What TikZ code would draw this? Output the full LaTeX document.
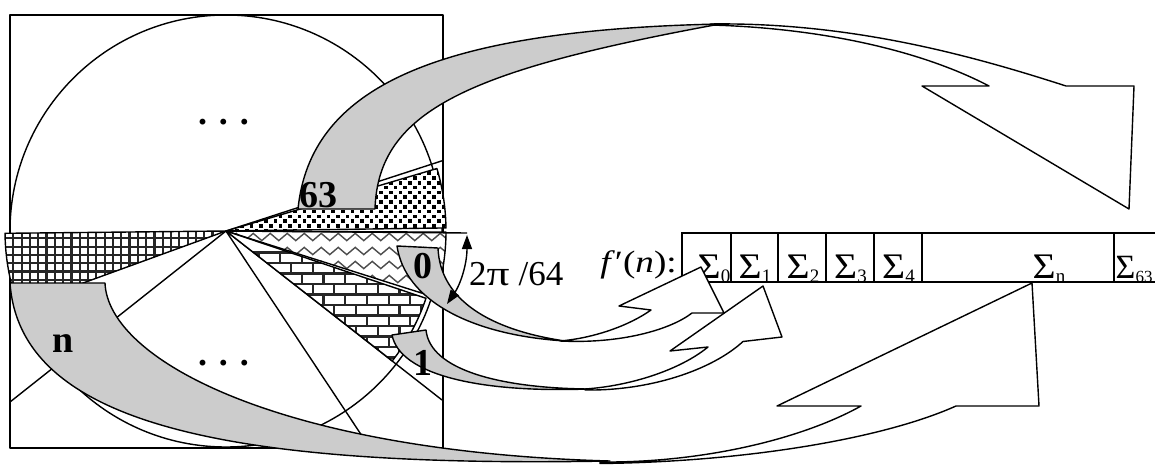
\documentclass[tikz,border=0pt]{standalone}
\usepackage{fontspec}
\setmainfont{Liberation Serif}
\usetikzlibrary{arrows.meta,decorations.pathmorphing}
\definecolor{ribbon}{RGB}{204,204,204}
\tikzset{
  outline/.style={draw=black, line width=1.4pt, line join=round},
  ribbonback/.style={outline, fill=ribbon},
  ribbonfront/.style={outline, fill=white},
  patline/.style={line width=2.2pt, black!85},
  boldlabel/.style={inner sep=0pt, anchor=base, font=\fontsize{38}{38}\selectfont\bfseries},
  sigmatext/.style={inner sep=0pt, anchor=base, font=\fontsize{36}{36}\selectfont},
  cellline/.style={draw=black, line width=1.6pt},
  dimarrow/.style={draw=black, line width=1.4pt, {Triangle[length=14pt,width=10pt]}-{Triangle[length=14pt,width=10pt]}},
}
\newcommand\sigsub[1]{\raisebox{-4pt}{\fontsize{19}{19}\selectfont #1}}
\newcommand\sigcell[1]{\scalebox{1.1}[1]{Σ}\sigsub{#1}}
\begin{document}
\begin{tikzpicture}[x=1pt,y=-1pt]
\useasboundingbox (0,0) rectangle (1155,465);
\coordinate (C) at (226,231);
% frame and circle
\draw[outline] (10,15) rectangle (443,448);
\draw[outline] (C) circle[radius=216pt];
% radial lines
\coordinate (R1) at (10,402);
\coordinate (R2) at (370,448);
\coordinate (R3) at (442,400);
\coordinate (R4) at (443,160.5);
\coordinate (D0) at (467,233);
\draw[outline] (C) -- (R1);
\draw[outline] (C) -- (R2);
\draw[outline] (C) -- (R3);
\draw[outline] (C) -- (R4);
% grid wedge (n)
\begin{scope}
\clip (C) -- plot[domain=160:179.4,samples=30] ({226+221*cos(\x)},{231+221*sin(\x)}) -- cycle;
\fill[white] (0,200) rectangle (240,320);
\foreach \i in {0,...,28} \draw[patline] ({5+8.3*\i},200) -- ++(0,120);
\foreach \j in {0,...,12} \draw[patline] (0,{230+8.3*\j}) -- ++(240,0);
\end{scope}
\draw[outline] (C) -- plot[domain=160:179.4,samples=30] ({226+221*cos(\x)},{231+221*sin(\x)}) -- cycle;
% dotted wedge (63)
\begin{scope}
\clip (C) -- plot[domain=-16.5:-0.8,samples=30] ({226+220*cos(\x)},{231+220*sin(\x)}) -- cycle;
\fill[white] (220,150) rectangle (460,240);
\foreach \j in {0,...,17} \foreach \i in {0,...,24}
  \fill ({221+9.6*\i+4.8*mod(\j,2)},{157+4.8*\j}) rectangle ++(3.6,3.6);
\end{scope}
\draw[outline] (C) -- plot[domain=-16.5:-0.8,samples=30] ({226+220*cos(\x)},{231+220*sin(\x)}) -- cycle;
% zigzag wedge (0)
\begin{scope}
\clip (C) -- plot[domain=0.3:17.6,samples=30] ({226+220*cos(\x)},{231+220*sin(\x)}) -- cycle;
\fill[white] (220,225) rectangle (460,310);
\foreach \j in {0,...,6}
  \draw[black!70, line width=1.4pt, decorate, decoration={zigzag,segment length=17pt,amplitude=3.6pt}] (215,{237+14*\j}) -- (470,{237+14*\j});
\end{scope}
\draw[outline] (C) -- plot[domain=0.3:17.6,samples=30] ({226+220*cos(\x)},{231+220*sin(\x)}) -- cycle;
% brick wedge (1)
\begin{scope}
\clip (C) -- plot[domain=18.6:38,samples=30] ({226+211*cos(\x)},{231+211*sin(\x)}) -- cycle;
\fill[white] (220,225) rectangle (460,380);
\foreach \k in {0,...,12} {
  \draw[patline] (215,{252.5+10.5*\k}) -- (460,{252.5+10.5*\k});
  \foreach \i in {0,...,11}
    \draw[patline] ({215+21.7*\i+10.85*mod(\k,2)},{252.5+10.5*\k}) -- ++(0,10.5);
}
\end{scope}
\draw[outline] (C) -- plot[domain=18.6:38,samples=30] ({226+211*cos(\x)},{231+211*sin(\x)}) -- cycle;
% horizontal reference line
\draw[outline] (C) -- (D0);
% table
\draw[cellline] (1155,233) -- (682,233) -- (682,282) -- (1155,282);
\foreach \xx in {731,778,826,874,922,1114} \draw[cellline] (\xx,233) -- (\xx,282);
\node[sigmatext] (s0) at (714,278) {\sigcell{0}};
\node[sigmatext] (s1) at (755,278) {\sigcell{1}};
\node[sigmatext] (s2) at (803,278) {\sigcell{2}};
\node[sigmatext] (s3) at (850.5,278) {\sigcell{3}};
\node[sigmatext] (s4) at (898.5,278) {\sigcell{4}};
\node[sigmatext] (sn) at (1049,278) {\sigcell{n}};
\node[sigmatext, anchor=base west, font=\fontsize{34}{34}\selectfont] (s63) at (1115.5,278) {Σ\raisebox{-4pt}{\fontsize{17}{17}\selectfont 63}};
\node[inner sep=0pt, anchor=base east, font=\fontsize{31}{31}\selectfont] (fn) at (677,272) {\scalebox{1.2}[1]{\textit{f}\char"2032(\textit{n}):}};
% ribbon arrow 63
\draw[ribbonback] (298,209) -- (375,209) .. controls (378,110) and (470,70) .. (720,24)
   .. controls (430,30) and (310,90) .. (298,209) -- cycle;
\draw[ribbonfront] (710,24) .. controls (850,22) and (970,55) .. (1066,86) -- (1134,86) -- (1129,209)
   -- (922,86) -- (989,86) .. controls (920,50) and (820,28) .. (710,25) -- cycle;
% ribbon arrow n
\draw[ribbonback] (10,283) -- (105,283) .. controls (108,360) and (280,452) .. (610,461)
   .. controls (230,468) and (20,425) .. (10,283) -- cycle;
\draw[ribbonfront] (600,462) .. controls (700,463) and (800,440) .. (861,406) -- (777,406) -- (1032,283)
   -- (1039,406) -- (956,406) .. controls (880,440) and (740,462) .. (600,463.5) -- cycle;
% ribbon arrow 0
\draw[ribbonback] (397,246) -- (438,248) .. controls (440,300) and (490,330) .. (565,341)
   .. controls (470,335) and (405,300) .. (397,246) -- cycle;
\draw[ribbonfront] (560,341) .. controls (620,344) and (670,330) .. (692,313) -- (724,313) -- (701,267)
   -- (619,306) -- (651,310) .. controls (630,325) and (595,338) .. (560,341) -- cycle;
% ribbon arrow 1
\draw[ribbonback] (392,335) -- (426,330) .. controls (430,370) and (500,388) .. (588,389)
   .. controls (480,393) and (400,375) .. (392,335) -- cycle;
\draw[ribbonfront] (585,390) .. controls (650,391) and (712,370) .. (743,341.5) -- (782,337) -- (763,286)
   -- (670,351) -- (708,347) .. controls (680,370) and (630,386) .. (585,389) -- cycle;
% angle dimension
\coordinate (D1) at (447,304);
\coordinate (D2) at (467,235);
\draw[dimarrow] (D1) .. controls (460,285) and (467,265) .. (D2);
\node[inner sep=0pt, anchor=base west, font=\fontsize{35}{35}\selectfont] (ang) at (469,285) {2\scalebox{1.3}[1]{π}\kern9pt/64};
% labels
\node[boldlabel] (l63) at (318,207) {63};
\node[boldlabel] (l0) at (422.5,278) {0};
\node[boldlabel] (l1) at (422.5,375) {1};
\node[boldlabel] (ln) at (63.5,352) {n};
\node[inner sep=0pt, anchor=base, font=\fontsize{36}{36}\selectfont\bfseries] (dtop) at (223.5,125) {. . .};
\node[inner sep=0pt, anchor=base, font=\fontsize{36}{36}\selectfont\bfseries] (dbot) at (223.5,365) {. . .};
\end{tikzpicture}
\end{document}
